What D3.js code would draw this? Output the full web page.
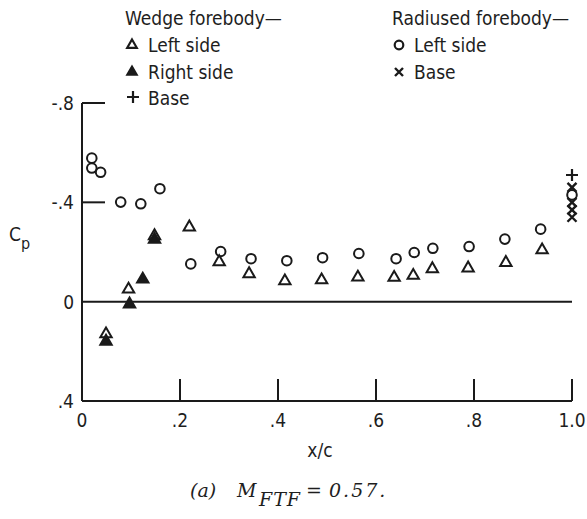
<!DOCTYPE html>
<html><head><meta charset="utf-8">
<script src="https://cdn.jsdelivr.net/npm/d3@7/dist/d3.min.js"></script>
<style>
body{margin:0;background:#fff;}
text{font-family:"DejaVu Sans Condensed","Liberation Sans Narrow",sans-serif;fill:#1e1e1e;}
.cap{font-family:"DejaVu Serif","Liberation Serif",serif;font-style:italic;}
</style></head><body>
<svg id="c" width="587" height="519"></svg>
<script>
// ---- data ----
const xTicks = [0, 0.2, 0.4, 0.6, 0.8, 1.0];
const xTickLabels = ["0", ".2", ".4", ".6", ".8", "1.0"];
const yTicks = [-0.8, -0.4, 0, 0.4];
const yTickLabels = ["-.8", "-.4", "0", ".4"];

const wedgeLeftX  = [0.049, 0.095, 0.148, 0.219, 0.280, 0.341, 0.414, 0.489, 0.563, 0.637, 0.676, 0.715, 0.788, 0.865, 0.939];
const wedgeLeftCp = [0.130, -0.050, -0.265, -0.300, -0.160, -0.112, -0.083, -0.087, -0.098, -0.097, -0.105, -0.132, -0.135, -0.157, -0.208];

const wedgeRightX  = [0.049, 0.097, 0.124, 0.148];
const wedgeRightCp = [0.160, 0.010, -0.090, -0.250];

const wedgeBaseX  = [1.0];
const wedgeBaseCp = [-0.51];

const radLeftX  = [0.020, 0.020, 0.038, 0.079, 0.120, 0.159, 0.222, 0.283, 0.345, 0.418, 0.491, 0.565, 0.641, 0.678, 0.716, 0.790, 0.863, 0.936, 1.0];
const radLeftCp = [-0.578, -0.538, -0.521, -0.401, -0.394, -0.455, -0.152, -0.202, -0.173, -0.165, -0.177, -0.194, -0.173, -0.198, -0.215, -0.222, -0.252, -0.292, -0.43];

const radBaseX  = [1.0, 1.0, 1.0, 1.0];
const radBaseCp = [-0.46, -0.40, -0.37, -0.34];

// ---- layout ----
const svg = d3.select("#c");
const x = d3.scaleLinear().domain([0, 1]).range([82, 572]);
const y = d3.scaleLinear().domain([-0.8, 0.4]).range([103, 401]);
const ink = "#1a1a1a";
const FS = 19;

// axes
const g = svg.append("g");
g.append("line").attr("x1", x(0)).attr("x2", x(0)).attr("y1", y(-0.8)).attr("y2", y(0.4))
  .attr("stroke", ink).attr("stroke-width", 2);
g.append("line").attr("x1", x(0)).attr("x2", x(1)).attr("y1", y(0.4)).attr("y2", y(0.4))
  .attr("stroke", ink).attr("stroke-width", 2);
g.append("line").attr("x1", x(0)).attr("x2", x(1)).attr("y1", y(0)).attr("y2", y(0))
  .attr("stroke", ink).attr("stroke-width", 2);

// x ticks (inward)
g.selectAll(".xt").data(xTicks.slice(1)).enter().append("line")
  .attr("x1", d => x(d)).attr("x2", d => x(d)).attr("y1", y(0.4)).attr("y2", y(0.4) - 22)
  .attr("stroke", ink).attr("stroke-width", 2);
g.selectAll(".xl").data(xTicks).enter().append("text")
  .attr("x", d => x(d)).attr("y", y(0.4) + 26).attr("text-anchor", "middle")
  .attr("font-size", FS).text((d, i) => xTickLabels[i]);

// y ticks (inward)
g.selectAll(".yt").data([-0.8, -0.4]).enter().append("line")
  .attr("x1", x(0)).attr("x2", x(0) + 23).attr("y1", d => y(d)).attr("y2", d => y(d))
  .attr("stroke", ink).attr("stroke-width", 2);
g.selectAll(".yl").data(yTicks).enter().append("text")
  .attr("x", x(0) - 8).attr("y", d => y(d) + 7).attr("text-anchor", "end")
  .attr("font-size", FS).text((d, i) => yTickLabels[i]);

// axis titles
const cp = g.append("text").attr("x", 9).attr("y", 241).attr("font-size", FS);
cp.append("tspan").text("C");
cp.append("tspan").attr("dy", 8).attr("font-size", 16).text("p");
g.append("text").attr("x", 320).attr("y", 457).attr("text-anchor", "middle").attr("font-size", FS).text("x/c");

// caption
const cap = g.append("g");
cap.append("text").attr("class", "cap").attr("x", 190).attr("y", 497).attr("font-size", 19).text("(a)");
cap.append("text").attr("class", "cap").attr("x", 237).attr("y", 497).attr("font-size", 19).text("M");
cap.append("text").attr("class", "cap").attr("x", 259).attr("y", 506).attr("font-size", 19).attr("letter-spacing", 1).text("FTF");
cap.append("text").attr("class", "cap").attr("x", 306).attr("y", 497).attr("font-size", 19).text("=");
cap.append("text").attr("class", "cap").attr("x", 329).attr("y", 497).attr("font-size", 19).attr("letter-spacing", 2).text("0.57.");

// markers
const tri = d3.symbol().type(d3.symbolTriangle).size(56);
function drawTri(sel, xs, ys, filled) {
  sel.selectAll(null).data(xs).enter().append("path")
    .attr("d", tri)
    .attr("transform", (d, i) => `translate(${x(d)},${y(ys[i])})`)
    .attr("fill", filled ? ink : "none").attr("stroke", ink).attr("stroke-width", 2);
}
function drawCircle(sel, xs, ys) {
  sel.selectAll(null).data(xs).enter().append("circle")
    .attr("cx", d => x(d)).attr("cy", (d, i) => y(ys[i])).attr("r", 4.8)
    .attr("fill", "none").attr("stroke", ink).attr("stroke-width", 2);
}
function drawX(sel, xs, ys, s) {
  sel.selectAll(null).data(xs).enter().append("path")
    .attr("d", `M${-s},${-s}L${s},${s}M${-s},${s}L${s},${-s}`)
    .attr("transform", (d, i) => `translate(${x(d)},${y(ys[i])})`)
    .attr("stroke", ink).attr("stroke-width", 2.4).attr("fill", "none");
}
function drawPlus(sel, xs, ys, s) {
  sel.selectAll(null).data(xs).enter().append("path")
    .attr("d", `M${-s},0L${s},0M0,${-s}L0,${s}`)
    .attr("transform", (d, i) => `translate(${x(d)},${y(ys[i])})`)
    .attr("stroke", ink).attr("stroke-width", 2.2).attr("fill", "none");
}
const m = svg.append("g");
drawCircle(m, radLeftX, radLeftCp);
drawTri(m, wedgeLeftX, wedgeLeftCp, false);
drawTri(m, wedgeRightX, wedgeRightCp, true);
drawX(m, radBaseX, radBaseCp, 4.5);
drawPlus(m, wedgeBaseX, wedgeBaseCp, 6);

// legend
const L = svg.append("g");
const triL = d3.symbol().type(d3.symbolTriangle).size(40);
L.append("text").attr("x", 125).attr("y", 25).attr("font-size", FS).text("Wedge forebody\u2014");
L.append("path").attr("d", triL).attr("transform", "translate(132,45)").attr("fill", "none").attr("stroke", ink).attr("stroke-width", 2.2);
L.append("text").attr("x", 148).attr("y", 52).attr("font-size", FS).text("Left side");
L.append("path").attr("d", triL).attr("transform", "translate(132,72)").attr("fill", ink).attr("stroke", ink).attr("stroke-width", 2);
L.append("text").attr("x", 148).attr("y", 79).attr("font-size", FS).text("Right side");
L.append("path").attr("d", "M-6,0L6,0M0,-6L0,6").attr("transform", "translate(133,97)").attr("stroke", ink).attr("stroke-width", 2.2);
L.append("text").attr("x", 148).attr("y", 105).attr("font-size", FS).text("Base");

L.append("text").attr("x", 392).attr("y", 25).attr("font-size", FS).text("Radiused forebody\u2014");
L.append("circle").attr("cx", 399).attr("cy", 45).attr("r", 4.3).attr("fill", "none").attr("stroke", ink).attr("stroke-width", 2.2);
L.append("text").attr("x", 414).attr("y", 52).attr("font-size", FS).text("Left side");
L.append("path").attr("d", "M-4,-4L4,4M-4,4L4,-4").attr("transform", "translate(399,72)").attr("stroke", ink).attr("stroke-width", 2.4);
L.append("text").attr("x", 414).attr("y", 79).attr("font-size", FS).text("Base");
</script></body></html>
